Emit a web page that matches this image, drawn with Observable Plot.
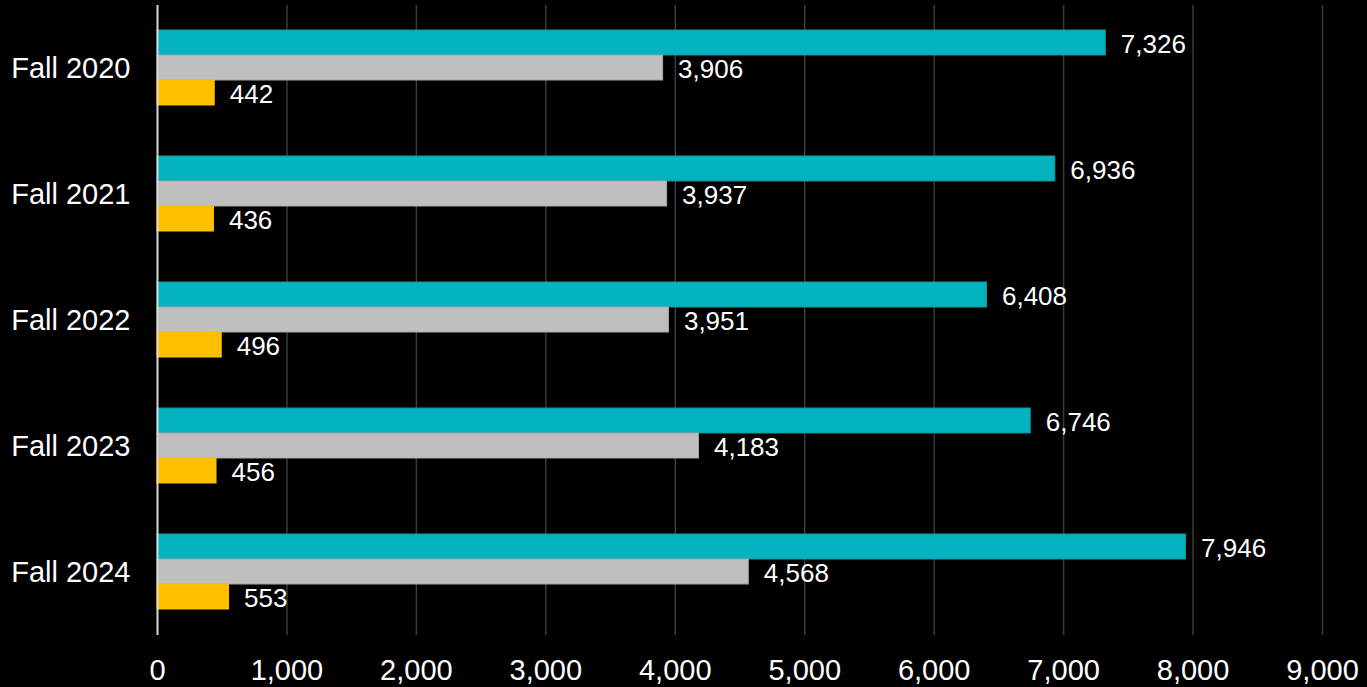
<!DOCTYPE html>
<html>
<head>
<meta charset="utf-8">
<script src="https://cdn.jsdelivr.net/npm/d3@7"></script>
<script src="https://cdn.jsdelivr.net/npm/@observablehq/plot@0.6"></script>
<style>
  html, body { margin: 0; padding: 0; background: #000; }
</style>
</head>
<body>
<div id="chart"></div>
<script>
const years = ["Fall 2020", "Fall 2021", "Fall 2022", "Fall 2023", "Fall 2024"];
const seriesNames = ["Series 1", "Series 2", "Series 3"];
const series1 = [7326, 6936, 6408, 6746, 7946];
const series2 = [3906, 3937, 3951, 4183, 4568];
const series3 = [442, 436, 496, 456, 553];
const seriesColors = ["#03B3BF", "#BFBFBF", "#FFC000"];
const seriesStrokes = ["#1A939C", "#A8A8A8", "#FFC000"];
const xTicks = [0, 1000, 2000, 3000, 4000, 5000, 6000, 7000, 8000, 9000];

const allSeries = [series1, series2, series3];
const data = [];
years.forEach((year, i) => {
  seriesNames.forEach((s, j) => {
    data.push({year, series: s, value: allSeries[j][i], stroke: seriesStrokes[j]});
  });
});

const fmt = d3.format(",");

const chart = Plot.plot({
  width: 1367,
  height: 687,
  marginTop: 5,
  marginBottom: 52,
  marginLeft: 157,
  marginRight: 45,
  style: {background: "#000", color: "#fff", fontFamily: "'Liberation Sans', Arial, sans-serif", fontSize: "29px"},
  x: {domain: [0, 9000], ticks: xTicks, tickFormat: fmt, tickSize: 0, tickPadding: 24, label: null},
  fy: {domain: years, padding: 0, label: null, axis: "left", tickSize: 0, tickPadding: 27},
  y: {domain: seriesNames, paddingInner: 0, paddingOuter: 0.95, align: 0.49, axis: null},
  color: {domain: seriesNames, range: seriesColors},
  marks: [
    Plot.gridX(xTicks.slice(1), {stroke: "#3a3a3a", strokeOpacity: 1, strokeWidth: 1.5}),
    Plot.barX(data, {x: "value", y: "series", fy: "year", fill: "series", stroke: "stroke", strokeWidth: 1}),
    Plot.ruleX([0], {stroke: "#d9d9d9", strokeWidth: 2}),
    Plot.text(data, {x: "value", y: "series", fy: "year", text: d => fmt(d.value), dx: 15, dy: 2, textAnchor: "start", fill: "#fff", fontSize: 26})
  ]
});
document.getElementById("chart").append(chart);
</script>
</body>
</html>
